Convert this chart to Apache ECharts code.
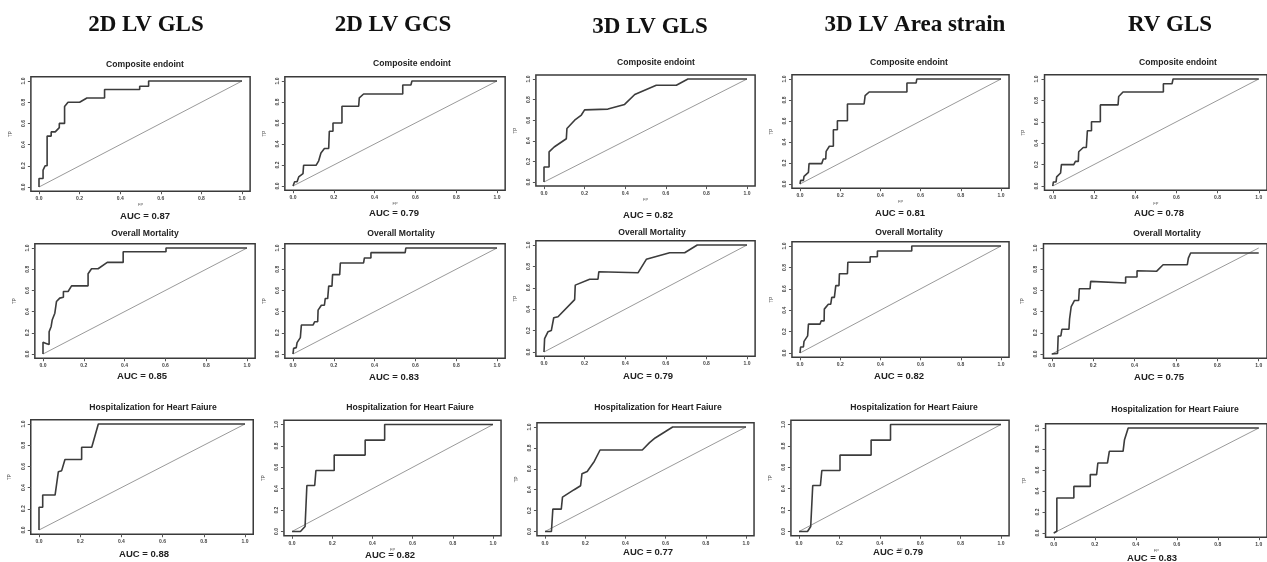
<!DOCTYPE html>
<html>
<head>
<meta charset="utf-8">
<script src="https://cdn.jsdelivr.net/npm/echarts@6/dist/echarts.min.js"></script>
<style>
html,body{margin:0;padding:0;background:#fff;}
#chart{width:1267px;height:562px;}
</style>
</head>
<body>
<div id="chart"></div>
<script>
// ---------- data ----------
const headers = ['2D LV GLS', '2D LV GCS', '3D LV GLS', '3D LV Area strain', 'RV GLS'];
const rowTitles = ['Composite endoint', 'Overall Mortality', 'Hospitalization for Heart Faiure'];
const aucValues = [
  [0.87, 0.79, 0.82, 0.81, 0.78],
  [0.85, 0.83, 0.79, 0.82, 0.75],
  [0.88, 0.82, 0.77, 0.79, 0.83]
];
const tickValues = [0, 0.2, 0.4, 0.6, 0.8, 1.0];
const diagonal = [[0, 0], [1, 1]];

// Row 1 : Composite endoint
const rocCompositeGLS2D = [[0,0],[0,0.08],[0.02,0.08],[0.02,0.16],[0.03,0.2],[0.04,0.2],[0.04,0.48],[0.06,0.48],[0.06,0.52],[0.08,0.52],[0.1,0.56],[0.1,0.6],[0.126,0.6],[0.126,0.76],[0.143,0.8],[0.2,0.8],[0.236,0.84],[0.323,0.84],[0.323,0.92],[0.496,0.92],[0.496,0.95],[0.54,0.95],[0.54,1],[1,1]];
const rocCompositeGCS2D = [[0,0],[0.008,0.04],[0.02,0.04],[0.028,0.086],[0.049,0.118],[0.052,0.197],[0.113,0.197],[0.126,0.24],[0.134,0.24],[0.137,0.315],[0.154,0.357],[0.175,0.357],[0.178,0.522],[0.196,0.522],[0.196,0.6],[0.24,0.6],[0.24,0.76],[0.322,0.76],[0.325,0.84],[0.346,0.876],[0.538,0.876],[0.538,0.962],[0.578,0.962],[0.583,1],[1,1]];
const rocCompositeGLS3D = [[0,0],[0,0.146],[0.025,0.146],[0.025,0.292],[0.05,0.34],[0.11,0.42],[0.113,0.52],[0.151,0.6],[0.184,0.65],[0.2,0.7],[0.205,0.708],[0.315,0.708],[0.397,0.753],[0.447,0.85],[0.553,0.94],[0.652,0.94],[0.709,1],[1,1]];
const rocCompositeArea3D = [[0,0],[0.003,0.035],[0.017,0.035],[0.02,0.073],[0.042,0.111],[0.045,0.194],[0.108,0.194],[0.116,0.238],[0.128,0.238],[0.13,0.311],[0.146,0.359],[0.166,0.359],[0.166,0.517],[0.186,0.517],[0.186,0.603],[0.236,0.603],[0.236,0.762],[0.319,0.762],[0.324,0.841],[0.344,0.876],[0.532,0.876],[0.532,0.962],[0.578,0.962],[0.581,1],[1,1]];
const rocCompositeRV = [[0,0],[0.003,0.038],[0.016,0.038],[0.019,0.085],[0.038,0.122],[0.042,0.2],[0.102,0.2],[0.11,0.23],[0.124,0.23],[0.126,0.32],[0.148,0.36],[0.163,0.36],[0.168,0.517],[0.188,0.517],[0.188,0.6],[0.231,0.6],[0.231,0.758],[0.317,0.758],[0.32,0.837],[0.341,0.878],[0.537,0.878],[0.537,0.956],[0.579,0.956],[0.584,1],[1,1]];

// Row 2 : Overall Mortality
const rocMortalityGLS2D = [[0,0],[0,0.11],[0.015,0.1],[0.03,0.09],[0.03,0.21],[0.04,0.26],[0.045,0.32],[0.058,0.385],[0.066,0.495],[0.082,0.527],[0.1,0.536],[0.1,0.59],[0.123,0.59],[0.14,0.643],[0.221,0.643],[0.221,0.757],[0.238,0.804],[0.27,0.804],[0.315,0.864],[0.393,0.864],[0.393,0.965],[0.603,0.965],[0.603,1],[1,1]];
const rocMortalityGCS2D = [[0,0],[0.003,0.053],[0.016,0.06],[0.02,0.107],[0.036,0.154],[0.041,0.273],[0.098,0.273],[0.106,0.304],[0.121,0.304],[0.123,0.414],[0.139,0.46],[0.154,0.46],[0.158,0.523],[0.17,0.523],[0.175,0.64],[0.191,0.64],[0.194,0.749],[0.229,0.749],[0.232,0.859],[0.346,0.859],[0.35,0.906],[0.382,0.906],[0.382,0.956],[0.55,0.956],[0.553,1],[1,1]];
const rocMortalityGLS3D = [[0,0],[0.003,0.125],[0.02,0.19],[0.036,0.2],[0.044,0.2],[0.048,0.32],[0.069,0.33],[0.151,0.49],[0.154,0.625],[0.225,0.68],[0.266,0.68],[0.27,0.75],[0.463,0.74],[0.504,0.866],[0.619,0.928],[0.693,0.928],[0.755,1],[1,1]];
const rocMortalityArea3D = [[0,0],[0.003,0.056],[0.017,0.056],[0.02,0.109],[0.038,0.16],[0.042,0.27],[0.1,0.27],[0.105,0.3],[0.12,0.3],[0.121,0.41],[0.141,0.456],[0.153,0.456],[0.158,0.52],[0.171,0.52],[0.178,0.63],[0.194,0.63],[0.196,0.74],[0.236,0.74],[0.238,0.848],[0.349,0.848],[0.349,0.9],[0.385,0.9],[0.385,0.953],[0.556,0.953],[0.556,1],[1,1]];
const rocMortalityRV = [[0,0],[0.028,0.006],[0.031,0.17],[0.044,0.17],[0.049,0.233],[0.083,0.233],[0.086,0.33],[0.094,0.448],[0.11,0.505],[0.13,0.505],[0.133,0.615],[0.185,0.615],[0.188,0.685],[0.357,0.67],[0.357,0.726],[0.412,0.726],[0.412,0.785],[0.506,0.78],[0.538,0.842],[0.655,0.842],[0.66,0.905],[0.671,0.953],[1,0.953]];

// Row 3 : Hospitalization for Heart Failure
const rocHospGLS2D = [[0,0],[0,0.215],[0.018,0.215],[0.018,0.33],[0.078,0.33],[0.094,0.55],[0.11,0.56],[0.126,0.665],[0.207,0.665],[0.207,0.78],[0.256,0.78],[0.288,1],[1,1]];
const rocHospGCS2D = [[0,0],[0.042,0],[0.065,0.047],[0.074,0.43],[0.113,0.43],[0.119,0.57],[0.21,0.57],[0.21,0.714],[0.364,0.714],[0.364,0.854],[0.461,0.854],[0.461,1],[1,1]];
const rocHospGLS3D = [[0,0],[0.032,0],[0.039,0.214],[0.081,0.214],[0.087,0.329],[0.145,0.4],[0.177,0.438],[0.184,0.553],[0.21,0.575],[0.245,0.67],[0.274,0.78],[0.484,0.78],[0.52,0.85],[0.548,0.895],[0.635,1],[1,1]];
const rocHospArea3D = [[0,0],[0.042,0],[0.058,0.047],[0.068,0.43],[0.106,0.43],[0.113,0.57],[0.203,0.57],[0.203,0.714],[0.357,0.714],[0.357,0.854],[0.453,0.854],[0.453,1],[1,1]];
const rocHospRV = [[0,0],[0.015,0.016],[0.015,0.333],[0.098,0.333],[0.098,0.444],[0.178,0.444],[0.178,0.556],[0.209,0.556],[0.215,0.667],[0.262,0.667],[0.271,0.778],[0.338,0.778],[0.345,0.889],[0.354,0.889],[0.363,1],[1,1]];

const rocCurves = [
  [rocCompositeGLS2D, rocCompositeGCS2D, rocCompositeGLS3D, rocCompositeArea3D, rocCompositeRV],
  [rocMortalityGLS2D, rocMortalityGCS2D, rocMortalityGLS3D, rocMortalityArea3D, rocMortalityRV],
  [rocHospGLS2D, rocHospGCS2D, rocHospGLS3D, rocHospArea3D, rocHospRV]
];

// ---------- layout (pixel positions of data 0 and 1 on each panel) ----------
const panelX0 = [[39,293,544,800,1053],[43,293,544,800,1052],[39,292,545,799,1054]];
const panelX1 = [[242,497,747,1001,1265],[247,497,747,1001,1265],[245,493,746,1001,1265]];
const panelY0 = [[187,186,182,184,186],[354,354,352,353,354],[530,531.5,531.5,531.5,533]];
const panelY1 = [[81,81,79,79,79],[248,248,245,246,248],[424,424.5,427,424.5,428]];
const titlePos = [
  [[145,65],[412,64],[656,63],[909,63],[1178,63]],
  [[145,234],[401,234],[652,233],[909,233],[1167,234]],
  [[153,408],[410,408],[658,408],[914,408],[1175,410]]
];
const aucPos = [
  [[145,216],[394,213],[648,215],[900,213],[1159,213]],
  [[142,376],[394,377],[648,376],[899,376],[1159,377]],
  [[144,554],[390,555],[648,552],[898,552],[1152,558]]
];
const headerPos = [[146,25],[393,25],[650,27],[915,25],[1170,25]];
const showFP = [[true,true,true,true,true],[false,false,false,false,false],[false,true,false,true,true]];

const grids = [], xAxes = [], yAxes = [], series = [], graphics = [];
const lineCol = '#3c3c3c';
let idx = 0;
for (let r = 0; r < 3; r++) {
  for (let c = 0; c < 5; c++) {
    const x0 = panelX0[r][c], x1 = panelX1[r][c], y0 = panelY0[r][c], y1 = panelY1[r][c];
    const w = x1 - x0, h = y0 - y1;
    grids.push({
      left: x0 - 0.04 * w, top: y1 - 0.04 * h, width: 1.08 * w, height: 1.08 * h,
      show: true, borderColor: '#3a3a3a', borderWidth: 1.5, backgroundColor: 'transparent',
      containLabel: false
    });
    xAxes.push({
      type: 'value', gridIndex: idx, min: -0.04, max: 1.04, position: 'bottom',
      splitLine: {show: false}, axisLine: {show: false, onZero: false},
      axisTick: {show: true, customValues: tickValues, length: 3, lineStyle: {color: '#555', width: 1}},
      axisLabel: {show: true, customValues: tickValues, fontSize: 5, fontWeight: 'bold', color: '#444', margin: 5,
        fontFamily: 'Liberation Sans', formatter: v => v.toFixed(1)},
      name: showFP[r][c] ? 'FP' : '', nameLocation: 'middle', nameGap: 12,
      nameTextStyle: {fontSize: 4, color: '#555', fontFamily: 'Liberation Sans'}
    });
    yAxes.push({
      type: 'value', gridIndex: idx, min: -0.04, max: 1.04, position: 'left',
      splitLine: {show: false}, axisLine: {show: false, onZero: false},
      axisTick: {show: true, customValues: tickValues, length: 3, lineStyle: {color: '#555', width: 1}},
      axisLabel: {show: true, customValues: tickValues, fontSize: 5, fontWeight: 'bold', color: '#444', margin: 5,
        rotate: 90, fontFamily: 'Liberation Sans', formatter: v => v.toFixed(1)},
      name: 'TP', nameLocation: 'middle', nameGap: 18, nameRotate: 90,
      nameTextStyle: {fontSize: 4.5, color: '#555', fontFamily: 'Liberation Sans'}
    });
    series.push({
      type: 'line', xAxisIndex: idx, yAxisIndex: idx, data: diagonal,
      showSymbol: false, symbol: 'none', silent: true,
      lineStyle: {color: '#9a9a9a', width: 1}
    });
    series.push({
      type: 'line', xAxisIndex: idx, yAxisIndex: idx, data: rocCurves[r][c],
      showSymbol: false, symbol: 'none', silent: true,
      lineStyle: {color: lineCol, width: 1.6}
    });
    graphics.push({
      type: 'text', x: titlePos[r][c][0], y: titlePos[r][c][1],
      style: {text: rowTitles[r], font: 'bold 8.6px "Liberation Sans", Arial, sans-serif', fill: '#222',
        textAlign: 'center', textVerticalAlign: 'middle'}
    });
    graphics.push({
      type: 'text', x: aucPos[r][c][0], y: aucPos[r][c][1],
      style: {text: 'AUC = ' + aucValues[r][c].toFixed(2), font: 'bold 9.5px "Liberation Sans", Arial, sans-serif', fill: '#222',
        textAlign: 'center', textVerticalAlign: 'middle'}
    });
    idx++;
  }
}
for (let c = 0; c < 5; c++) {
  graphics.push({
    type: 'text', x: headerPos[c][0], y: headerPos[c][1],
    style: {text: headers[c], font: 'bold 23px "Liberation Serif", "Times New Roman", serif', fill: '#111',
      textAlign: 'center', textVerticalAlign: 'middle'}
  });
}

const chart = echarts.init(document.getElementById('chart'), null, {renderer: 'canvas'});
chart.setOption({
  animation: false,
  backgroundColor: '#ffffff',
  grid: grids,
  xAxis: xAxes,
  yAxis: yAxes,
  series: series,
  graphic: graphics
});
</script>
</body>
</html>
